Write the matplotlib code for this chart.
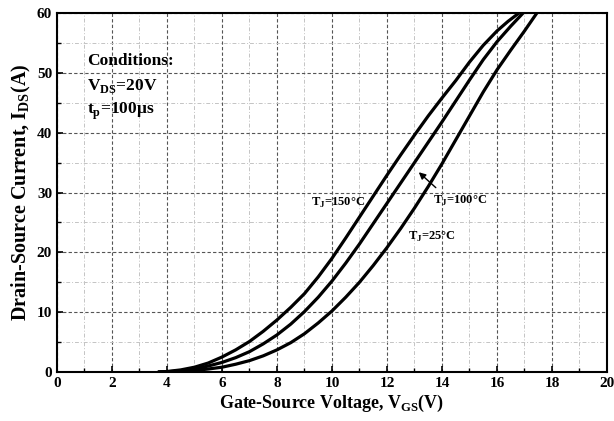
import numpy as np
import matplotlib.pyplot as plt
from matplotlib.ticker import MultipleLocator

plt.rcParams['font.family'] = ['Liberation Serif', 'DejaVu Serif']
plt.rcParams['mathtext.fontset'] = 'custom'
plt.rcParams['mathtext.rm'] = 'Liberation Serif:bold'
plt.rcParams['mathtext.bf'] = 'Liberation Serif:bold'

# Transfer characteristics (VGS in V, IDS in A)
vgs_150 = [3.7, 4, 4.5, 5, 5.5, 6, 6.5, 7, 7.5, 8, 8.5, 9, 9.5, 10, 10.5, 11,
           11.5, 12, 12.5, 13, 13.5, 14, 14.5, 15, 15.5, 16, 16.4, 16.8]
ids_150 = [0, 0.08, 0.35, 0.8, 1.5, 2.5, 3.7, 5.1, 6.8, 8.7, 10.8, 13.1, 15.9, 19.0, 22.4, 25.9,
           29.4, 32.9, 36.3, 39.6, 42.8, 45.8, 48.7, 51.8, 54.6, 57.0, 58.6, 60]

vgs_100 = [3.7, 4, 4.5, 5, 5.5, 6, 6.5, 7, 7.5, 8, 8.5, 9, 9.5, 10, 10.5, 11,
           11.5, 12, 12.5, 13, 13.5, 14, 14.5, 15, 15.5, 16, 16.5, 16.95]
ids_100 = [0, 0.04, 0.2, 0.5, 1.0, 1.6, 2.4, 3.4, 4.7, 6.2, 8.0, 10.1, 12.5, 15.2, 18.2, 21.4,
           24.8, 28.2, 31.6, 35.0, 38.4, 41.8, 45.3, 48.8, 52.2, 55.2, 57.8, 60]

vgs_25 = [3.7, 4, 4.5, 5, 5.5, 6, 6.5, 7, 7.5, 8, 8.5, 9, 9.5, 10, 10.5, 11,
          11.5, 12, 12.5, 13, 13.5, 14, 14.5, 15, 15.5, 16, 16.5, 17, 17.45]
ids_25 = [0, 0.02, 0.1, 0.25, 0.5, 0.8, 1.3, 1.9, 2.7, 3.7, 4.9, 6.4, 8.2, 10.2, 12.5, 15.0,
          17.8, 20.8, 24.0, 27.4, 31.0, 34.8, 38.8, 42.8, 46.8, 50.5, 53.8, 57.0, 60]

fig = plt.figure(figsize=(6.14, 4.21), dpi=100)
ax = fig.add_axes([0.0928, 0.1164, 0.8958, 0.8527])

for v, i in [(vgs_150, ids_150), (vgs_100, ids_100), (vgs_25, ids_25)]:
    ax.plot(v, i, color="black", linewidth=2.3, solid_joinstyle="round", solid_capstyle="round")

ax.set_xlim(0, 20)
ax.set_ylim(0, 60)
ax.xaxis.set_major_locator(MultipleLocator(2))
ax.xaxis.set_minor_locator(MultipleLocator(1))
ax.yaxis.set_major_locator(MultipleLocator(10))
ax.yaxis.set_minor_locator(MultipleLocator(5))
ax.grid(which="major", linestyle=(0, (3, 2)), color="#555555", linewidth=0.8)
ax.grid(which="minor", linestyle=(0, (4, 2, 1, 2)), color="#c4c4c4", linewidth=0.7)
ax.tick_params(which="both", direction="in", labelsize=11)
ax.tick_params(which="major", length=4, width=1.2)
ax.tick_params(which="minor", length=3, width=1.0)
for lbl in ax.get_xticklabels() + ax.get_yticklabels():
    lbl.set_fontweight("bold")
for s in ax.spines.values():
    s.set_linewidth(1.5)

ax.set_xlabel(r"Gate-Source Voltage, V$_{\mathrm{GS}}$(V)", fontsize=13, fontweight="bold", labelpad=2)
ax.set_ylabel(r"Drain-Source Current, I$_{\mathrm{DS}}$(A)", fontsize=14.5, fontweight="bold", labelpad=3)

ax.text(1.1, 51.3, "Conditions:", fontsize=12.5, fontweight="bold", va="baseline")
ax.text(1.1, 47.2, r"V$_{\mathrm{DS}}$=20V", fontsize=12.5, fontweight="bold", va="baseline")
ax.text(1.1, 43.1, r"t$_{\mathrm{p}}$=100$\mathrm{\mu}$s", fontsize=12.5, fontweight="bold", va="baseline")

ax.text(9.25, 28.3, r"T$_{\mathrm{J}}$=150°C", fontsize=9, fontweight="bold", va="center")
ax.text(13.68, 28.6, r"T$_{\mathrm{J}}$=100°C", fontsize=9, fontweight="bold", va="center")
ax.text(12.76, 22.6, r"T$_{\mathrm{J}}$=25°C", fontsize=9, fontweight="bold", va="center")
ax.annotate("", xy=(13.08, 33.7), xytext=(13.85, 30.5),
            arrowprops=dict(arrowstyle="-|>", color="black", lw=1.0, mutation_scale=10))

fig.savefig("out.png", dpi=100)
